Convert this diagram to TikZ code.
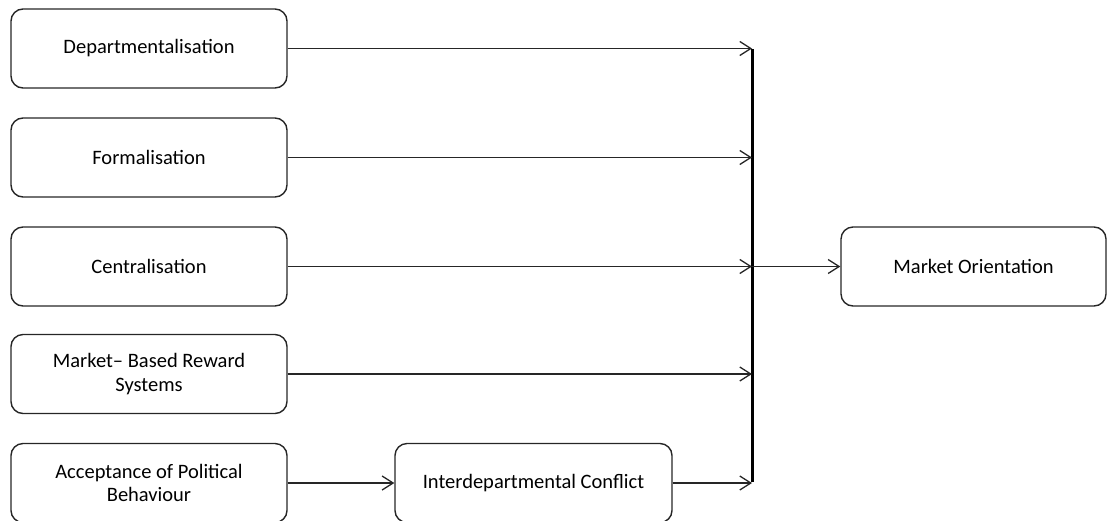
\documentclass[tikz,border=0pt]{standalone}
\usepackage{fontspec}
\setmainfont{Carlito}
\usetikzlibrary{arrows.meta}
\begin{document}
\begin{tikzpicture}[x=1pt,y=-1pt,
  box/.style={draw=black!85, line width=1.4pt, rounded corners=12pt,
    align=center, inner sep=2pt, font=\fontsize{20.5}{23.5}\selectfont,
    minimum height=79pt},
  srcbox/.style={box, minimum width=276pt},
  link/.style={draw=black!85, line width=1.3pt,
    -{Straight Barb[length=11pt,width=14pt,line width=1.3pt]}},
  bus/.style={draw=black, line width=3pt}]
\useasboundingbox (0,0) rectangle (1107,520);

% source factors, left column
\node[srcbox] (dep) at (149,48.5) {Departmentalisation};
\node[srcbox] (for) at (149,157.5) {Formalisation};
\node[srcbox] (cen) at (149,266.5) {Centralisation};
\node[srcbox] (mbr) at (149,374) {Market-- Based Reward\\Systems};
\node[srcbox] (apb) at (149,483) {Acceptance of Political\\Behaviour};

% mediator and outcome
\node[box, minimum width=277pt] (idc) at (533.5,483) {Interdepartmental Conflict};
\node[box, minimum width=265pt] (mo) at (973.5,266.5) {Market Orientation};

% collecting bar
\coordinate (bt) at (752,48);
\coordinate (bb) at (752,483);
\draw[bus] ([yshift=-1pt]bt) -- ([yshift=1pt]bb);

\draw[link] (dep.east) -- (dep.east -| bt);
\draw[link] (for.east) -- (for.east -| bt);
\draw[link] (cen.east) -- (cen.east -| bt);
\draw[link] (mbr.east) -- (mbr.east -| bt);
\draw[link] (apb.east) -- (idc.west);
\draw[link] (idc.east) -- (idc.east -| bt);
\draw[link] (cen.east -| bt) -- (mo.west);
\end{tikzpicture}
\end{document}
